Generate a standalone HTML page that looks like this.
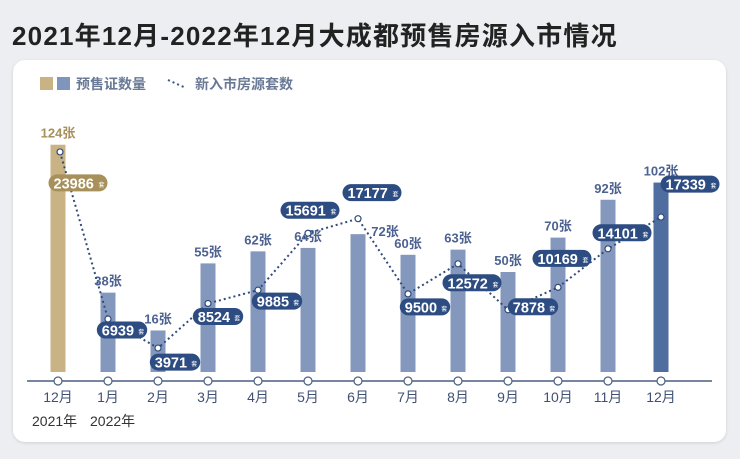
<!DOCTYPE html>
<html><head><meta charset="utf-8">
<style>
body{margin:0;width:740px;height:459px;background:#eceef1;font-family:"Liberation Sans","Noto Sans CJK SC",sans-serif;overflow:hidden;position:relative}
#title{position:absolute;left:12px;top:16px;font-size:26px;font-weight:bold;color:#222;letter-spacing:1.2px}
#card{position:absolute;left:13px;top:60px;width:713px;height:382px;background:#fff;border-radius:12px;box-shadow:0 1px 3px rgba(0,0,0,.12)}
svg{position:absolute;left:0;top:0}
</style></head><body>
<div id="title">2021年12月-2022年12月大成都预售房源入市情况</div>
<div id="card"></div>
<svg id="chart" width="740" height="459" font-family="Liberation Sans, Noto Sans CJK SC, sans-serif"></svg>
<script>
const months=["12月","1月","2月","3月","4月","5月","6月","7月","8月","9月","10月","11月","12月"];
const permits=[124,38,16,55,62,64,72,60,63,50,70,92,102];
const units=[23986,6939,3971,8524,9885,15691,17177,9500,12572,7878,10169,14101,17339];
// label offsets (styling only)
const pillDx=[18,14,17,10,19,2,14,17,14,25,4,14,29];
const pillDy=[31,11,14,13,11,-23,-26,13,19,-3,-29,-16,-33];
const NS="http://www.w3.org/2000/svg";
const svg=document.getElementById('chart');
function mk(t,a,p){const e=document.createElementNS(NS,t);for(const k in a)e.setAttribute(k,a[k]);(p||svg).appendChild(e);return e;}
const xAt=i=>58+i*50+(i==12?3:0);
const base=372;
const barH=v=>14+1.72*v;
const yU=v=>387-0.0098*v;
// legend
let g=mk('g',{});
mk('rect',{x:40,y:77,width:13,height:13,fill:'#c9b385'},g);
mk('rect',{x:57,y:77,width:13,height:13,fill:'#7f95bb'},g);
let t=mk('text',{x:76,y:89,'font-size':14,fill:'#6a7a96','font-weight':'bold'},g);t.textContent='预售证数量';
mk('path',{d:'M168 80 L186 88','stroke':'#3b5584','stroke-width':2,'stroke-dasharray':'2 3'},g);
t=mk('text',{x:195,y:89,'font-size':14,fill:'#6a7a96','font-weight':'bold'},g);t.textContent='新入市房源套数';
// axis
let ax=mk('line',{x1:27,y1:381,x2:712,y2:381,stroke:'#4a5e80','stroke-width':1.5});

// bars
permits.forEach((v,i)=>{
 const h=barH(v),x=xAt(i);
 const c=i==0?'#c9b385':(i==12?'#4f6d9e':'#8498bd');
 const r=mk('rect',{x:x-7.5,y:base-h,width:15,height:h,fill:c});
 
 
 const lx=i==6?x+27:x;
 const lt=mk('text',{x:lx,y:base-h-(i==6?-2:7),'text-anchor':'middle','font-size':13,'font-weight':'bold',fill:i==0?'#a8905a':'#4d6290'});
 lt.textContent=v+'张';
 
 
 mk('circle',{cx:x,cy:381,r:4,fill:'#fff',stroke:'#4a5e80','stroke-width':1.2});
 const mt=mk('text',{x:x,y:402,'text-anchor':'middle','font-size':14,fill:'#3f5074'});
 mt.textContent=months[i];
 
 
});
t=mk('text',{x:32,y:426,'font-size':14,fill:'#333'});t.textContent='2021年';
t=mk('text',{x:90,y:426,'font-size':14,fill:'#333'});t.textContent='2022年';
// line
const pts=units.map((v,i)=>[xAt(i)+(i==0?2:0),yU(v)]);
const ln=mk('polyline',{points:pts.map(p=>p.join(',')).join(' '),fill:'none',stroke:'#2f4b7c','stroke-width':2,'stroke-dasharray':'2 3'});


units.forEach((v,i)=>{
 const [x,y]=pts[i];
 const pt=mk('circle',{cx:x,cy:y,r:3,fill:'#fff',stroke:'#2f4b7c','stroke-width':1.2});
 
 
 const s=String(v),w=s.length*8.6+16;
 const cx=x+pillDx[i],cy=y+pillDy[i];
 const pg=mk('g',{});
 
 
 mk('rect',{x:cx-w/2,y:cy-8.5,width:w,height:17,rx:8.5,fill:i==0?'#a8905a':'#2d4c82'},pg);
 const tt=mk('text',{x:cx-w/2+5,y:cy+5.5,'font-size':14.5,'font-weight':'bold',fill:'#fff'},pg);tt.textContent=s;
 const st=mk('text',{x:cx+w/2-9,y:cy+4,'font-size':6,fill:'#fff'},pg);st.textContent='套';
});
</script>
</body></html>
